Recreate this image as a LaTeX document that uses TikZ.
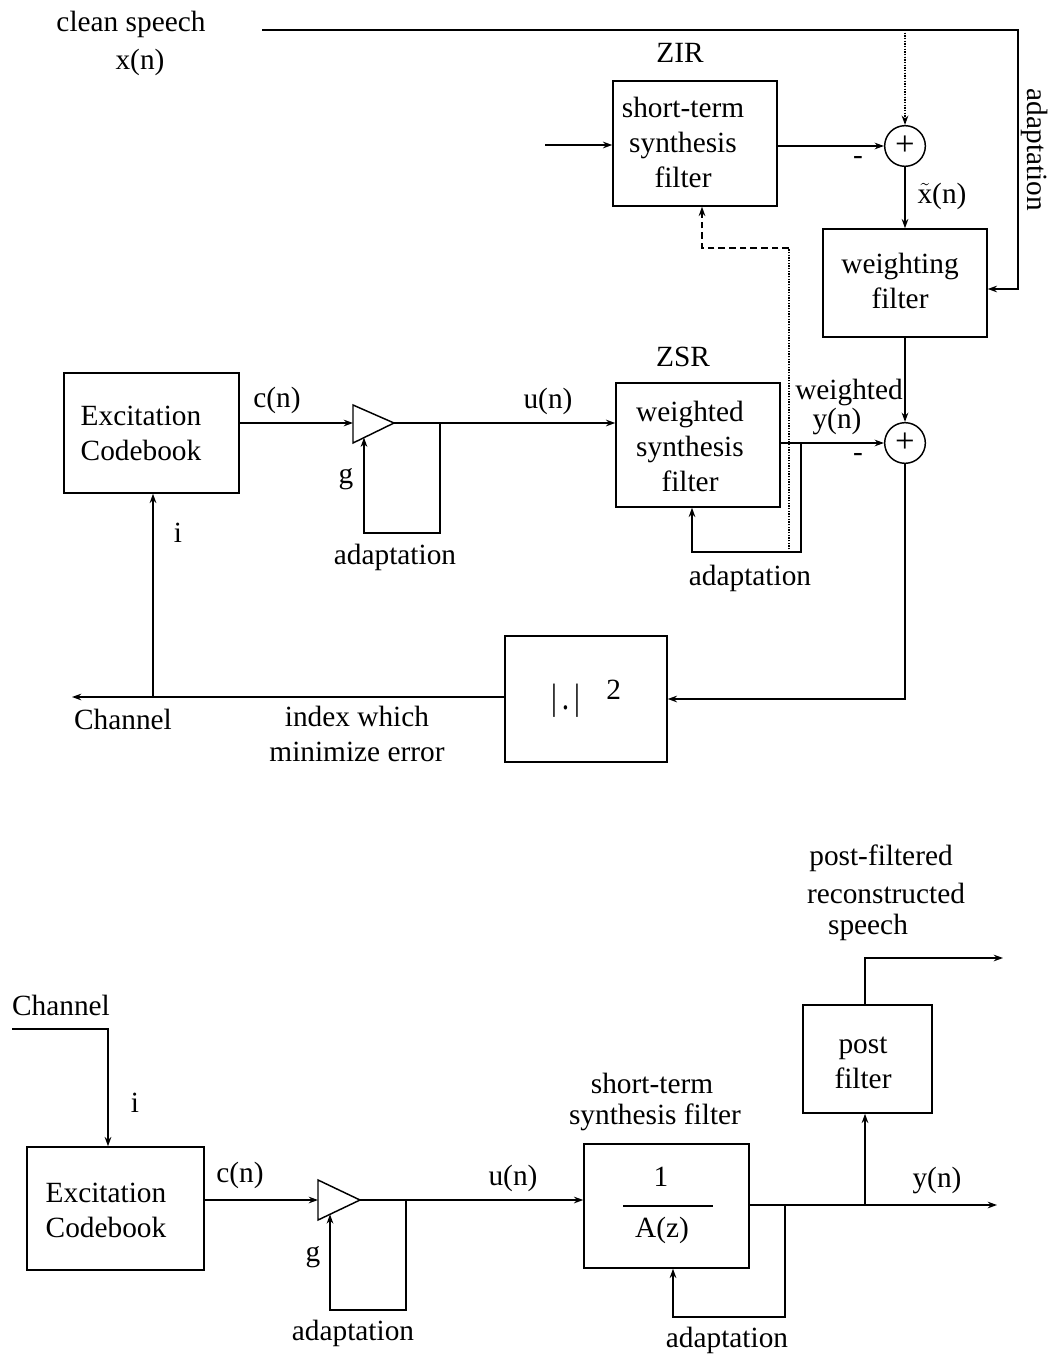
\documentclass[tikz,border=0pt]{standalone}
\usepackage{fontspec}
\setmainfont{Liberation Serif}
\usetikzlibrary{arrows.meta}
\begin{document}
\begin{tikzpicture}[x=0.75pt,y=-0.75pt,
  every node/.style={font=\fontsize{22}{26.25}\selectfont, inner sep=0pt},
  blk/.style={draw, line width=1.1pt, rectangle},
  summer/.style={draw, circle, line width=1.1pt, minimum size=30.5pt, font=\fontsize{26}{26}\selectfont},
  wire/.style={line width=1.1pt},
  arr/.style={wire, -{Stealth[length=7pt,width=5pt]}},
  txt/.style={align=center},
  dotline/.style={line width=1pt, densely dotted},
  dashline/.style={line width=1.1pt, dash pattern=on 5pt off 3pt}
]
\useasboundingbox (0,0) rectangle (1050,1355);

%%%%%%%%%%%%%%%% TOP: encoder %%%%%%%%%%%%%%%%
% blocks
\node[blk, minimum width=123pt, minimum height=93.75pt] (zir) at (695,143.5) {};
\node[txt] at (683,142) {short-term\\synthesis\\filter};
\node[blk, minimum width=123pt, minimum height=81pt] (wf) at (905,283) {};
\node[txt] at (900,281) {weighting\\filter};
\node[blk, minimum width=123pt, minimum height=93pt] (zsr) at (698,445) {};
\node[txt] at (690,446) {weighted\\synthesis\\filter};
\node[blk, minimum width=131.25pt, minimum height=90pt] (cb1) at (151.5,433) {};
\node[txt] at (141,433) {Excitation\\Codebook};
\node[blk, minimum width=121.5pt, minimum height=94.5pt] (sq) at (586,699) {};
\node (sqtxt) at (586,699) {\raisebox{-0.3ex}{\scalebox{1}[1.25]{|\,.\,|}}\hspace{0.9em}\raisebox{0.45ex}{2}};
\node[summer] (s1) at (905,146) {+};
\node[summer] (s2) at (905,443) {+};

% gain triangle 1
\coordinate (g1in) at (353,423);
\coordinate (g1out) at (394,423);
\coordinate (g1g) at (364,437.6);
\draw[wire, line join=miter] (353,405) -- (g1out) -- (353,443) -- cycle;

% clean speech path
\coordinate (cs) at (262,30);
\coordinate (tr) at (1018,30);
\coordinate (tap) at (905,30);
\draw[arr] (cs) -- (tr) |- ([yshift=-4.5pt]wf.east);
\draw[dotline, -{Stealth[length=7pt,width=5pt]}] (tap) -- (s1.north);

% ZIR
\coordinate (zin) at (545,145);
\draw[arr] (zin) -- (zin -| zir.west);
\draw[arr] (zir.east |- s1) -- (s1.west);
\draw[arr] (s1.south) -- (wf.north);
\draw[arr] (wf.south) -- (s2.north);

% gain and ZSR
\draw[arr] (cb1.east |- g1in) -- (g1in);
\draw[arr] (g1out) -- (zsr.west |- g1out);
\coordinate (g1a) at (440,423);
\coordinate (g1b) at (440,533);
\draw[arr] (g1a) -- (g1b) -| (g1g);
\draw[arr] (zsr.east |- s2) -- (s2.west);
\coordinate (zfa) at (801,443);
\coordinate (zfb) at (692,552);
\draw[arr] (zfa) |- (zfb) -- (zfb |- zsr.south);

% dotted/dashed adaptation path to ZIR
\coordinate (da) at (789,552);
\coordinate (db) at (789,248);
\coordinate (dc) at (702,248);
\draw[dotline] (da) -- (db);
\draw[dashline] (db) -- (dc) -- ([yshift=-6pt]dc |- zir.south);
\draw[wire, -{Stealth[length=7pt,width=5pt]}] ([yshift=-6pt]dc |- zir.south) -- (dc |- zir.south);

% error path
\draw[arr] (s2.south) |- (sq.east);
\coordinate (chout) at (72,697);
\draw[arr] (sq.west |- chout) -- (chout);
\coordinate (cbtap) at (153,697);
\draw[arr] (cbtap) -- (cbtap |- cb1.south);

% labels top
\node at (131,24) {clean speech};
\node at (140,62) {x(n)};
\node[rotate=-90] at (1035,150) {adaptation};
\node at (680,53) {ZIR};
\node at (683,357) {ZSR};
\node at (858,160) {-};
\node at (942,196) {$\tilde{\mbox{x}}$(n)};
\node at (277,400) {c(n)};
\node at (548,401) {u(n)};
\node at (346,479) {g};
\node at (178,533) {i};
\node at (395,557) {adaptation};
\node at (750,578) {adaptation};
\node at (849,392) {weighted};
\node at (837,421) {y(n)};
\node at (858,457) {-};
\node at (123,719) {Channel};
\node[txt] at (357,734) {index which\\minimize error};

%%%%%%%%%%%%%%%% BOTTOM: decoder %%%%%%%%%%%%%%%%
\node[blk, minimum width=132.75pt, minimum height=92.25pt] (cb2) at (115.5,1208.5) {};
\node[txt] at (106,1210) {Excitation\\Codebook};
\node[blk, minimum width=123.75pt, minimum height=93pt] (stf) at (666.5,1206) {};
\node at (661,1177) {1};
\draw[line width=1pt] (623,1206) -- (713,1206);
\node at (662,1230) {A(z)};
\node[blk, minimum width=96.75pt, minimum height=81pt] (pf) at (867.5,1059) {};
\node[txt] at (863,1063) {post\\filter};

% gain triangle 2
\coordinate (g2in) at (318,1200);
\coordinate (g2out) at (360,1200);
\coordinate (g2g) at (330,1214.3);
\draw[wire, line join=miter] (318,1180) -- (g2out) -- (318,1220) -- cycle;

% channel in
\coordinate (chin) at (12,1029);
\coordinate (chc) at (108,1029);
\draw[arr] (chin) -- (chc) -- (chc |- cb2.north);

\draw[arr] (cb2.east |- g2in) -- (g2in);
\draw[arr] (g2out) -- (stf.west |- g2out);
\coordinate (g2a) at (406,1200);
\coordinate (g2b) at (406,1310);
\draw[arr] (g2a) -- (g2b) -| (g2g);

\coordinate (yout) at (997,1205);
\draw[arr] (stf.east |- yout) -- (yout);
\coordinate (sfa) at (785,1205);
\coordinate (sfb) at (673,1317);
\draw[arr] (sfa) |- (sfb) -- (sfb |- stf.south);

\coordinate (pfa) at (865,1205);
\draw[arr] (pfa) -- (pfa |- pf.south);
\coordinate (pfo) at (865,958);
\coordinate (pfend) at (1003,958);
\draw[arr] (pfo |- pf.north) -- (pfo) -- (pfend);

% labels bottom
\node at (881,858) {post-filtered};
\node at (886,893) {reconstructed};
\node at (868,927) {speech};
\node at (61,1005) {Channel};
\node at (135,1103) {i};
\node at (240,1175) {c(n)};
\node at (313,1257) {g};
\node at (353,1333) {adaptation};
\node at (513,1178) {u(n)};
\node at (652,1083) {short-term};
\node at (655,1117) {synthesis filter};
\node at (727,1340) {adaptation};
\node at (937,1180) {y(n)};
\end{tikzpicture}
\end{document}
